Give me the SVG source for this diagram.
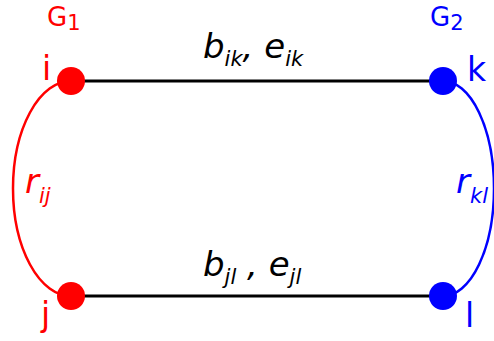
<svg xmlns="http://www.w3.org/2000/svg" width="494" height="341" viewBox="0 0 494 341">
<style>
text{font-family:"DejaVu Sans",sans-serif}
.red{fill:#ff0000}
.blue{fill:#0000ff}
.lbl{font-size:33px}
.g{font-size:26px}
.it{font-style:italic;font-size:34px}
.sub{font-size:21px}
.edge{stroke:#000;stroke-width:3;fill:none}
</style>
<rect width="494" height="341" fill="#fff"/>
<g id="connectors">
<line class="edge" x1="71" y1="81" x2="443" y2="81"/>
<line class="edge" x1="71" y1="296" x2="443" y2="296"/>
<path d="M71,81 A58,107.5 0 0 0 71,296" fill="none" stroke="#ff0000" stroke-width="2.5"/>
<path d="M443,81 A51,107.5 0 0 1 443,296" fill="none" stroke="#0000ff" stroke-width="2.5"/>
<text class="it" x="203" y="58">b<tspan class="sub" dy="8">ik</tspan><tspan dy="-8">, e</tspan><tspan class="sub" dy="8">ik</tspan></text>
<text class="it" x="203" y="276">b<tspan class="sub" dy="8">jl</tspan><tspan dy="-8"> , e</tspan><tspan class="sub" dy="8">jl</tspan></text>
<text class="it red" x="25" y="193">r<tspan class="sub" dy="10">ij</tspan></text>
<text class="it blue" x="456" y="193">r<tspan class="sub" dy="10">kl</tspan></text>
</g>
<g id="node-i"><circle class="red" cx="71" cy="81" r="14"/><text class="lbl red" x="42" y="80">i</text><text class="g red" x="47" y="26">G<tspan class="sub" dy="4">1</tspan></text></g>
<g id="node-j"><circle class="red" cx="71" cy="296" r="14"/><text class="lbl red" x="41" y="326">j</text></g>
<g id="node-k"><circle class="blue" cx="443" cy="81" r="14"/><text class="lbl blue" x="467" y="81">k</text><text class="g blue" x="430" y="26">G<tspan class="sub" dy="4">2</tspan></text></g>
<g id="node-l"><circle class="blue" cx="443" cy="296" r="14"/><text class="lbl blue" x="465" y="327">l</text></g>
</svg>
